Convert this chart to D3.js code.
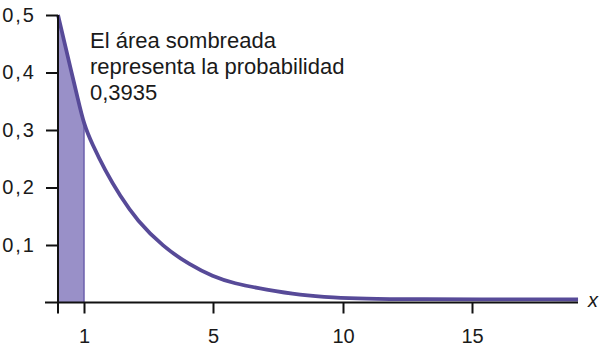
<!DOCTYPE html>
<html><head><meta charset="utf-8">
<script src="https://cdn.jsdelivr.net/npm/d3@7/dist/d3.min.js"></script>
<style>
html,body{margin:0;padding:0;background:#fff;}
svg{display:block;}
text{font-family:"Liberation Sans",Arial,sans-serif;fill:#1a1a1a;}
</style></head>
<body>
<svg id="chart" width="602" height="351"></svg>
<script>
// Curve points (x, density)
const curveX = [0, 0.25, 0.5, 0.75, 1.0, 1.25, 1.65, 2.12, 2.64, 3.45, 4.29, 5.0, 5.77, 7.07, 8.35, 9.62, 10.92, 12.21, 19.11];
const curveY = [0.5, 0.452, 0.404, 0.357, 0.309, 0.276, 0.230, 0.185, 0.143, 0.097, 0.065, 0.045, 0.0334, 0.022, 0.013, 0.0087, 0.0066, 0.0056, 0.0052];
const shadeFrom = 0, shadeTo = 1;
const xTicks = [1, 5, 10, 15];
const yTicks = [0.1, 0.2, 0.3, 0.4, 0.5];
const yTickLabels = ["0,1", "0,2", "0,3", "0,4", "0,5"];
const noteLines = ["El área sombreada", "representa la probabilidad", "0,3935"];
const xLabel = "x";

const svg = d3.select("#chart");
// axis placement on the original is not uniform: polylinear scale
const x = d3.scaleLinear().domain([0, 1, 5, 10, 15]).range([58, 84, 213, 343, 472]);
const y = d3.scaleLinear().domain([0, 0.5]).range([302.5, 15]);

const pts = curveX.map((d, i) => ({x: d, y: curveY[i]}));
const crv = d3.curveBasis;

svg.append("clipPath").attr("id", "shade").append("rect")
  .attr("x", x(shadeFrom)).attr("y", 0).attr("width", x(shadeTo) - x(shadeFrom)).attr("height", y(0));

const area = d3.area().x(d => x(d.x)).y0(y(0)).y1(d => y(d.y)).curve(crv);
svg.append("path").datum(pts).attr("d", area).attr("fill", "#9990c8").attr("clip-path", "url(#shade)");
const edgeY = curveY[curveX.indexOf(shadeTo)];
svg.append("line").attr("x1", x(shadeTo)).attr("x2", x(shadeTo)).attr("y1", y(0)).attr("y2", y(edgeY))
  .attr("stroke", "#6d61ad").attr("stroke-width", 1.5);

const line = d3.line().x(d => x(d.x)).y(d => y(d.y)).curve(crv);
svg.append("path").datum(pts).attr("d", line).attr("fill", "none")
  .attr("stroke", "#574a98").attr("stroke-width", 3.8);

// axes
const gx = svg.append("g").attr("transform", `translate(0,${y(0)})`)
  .call(d3.axisBottom(x).tickValues(xTicks).tickSize(11).tickPadding(15).tickFormat(d3.format("d")));
gx.select(".domain").remove();
gx.selectAll(".tick line").attr("stroke", "#111").attr("stroke-width", 2);
gx.selectAll(".tick text").attr("font-size", 20).attr("font-family", "Liberation Sans, Arial, sans-serif").attr("fill", "#1a1a1a");

const gy = svg.append("g").attr("transform", `translate(${x(0)},0)`)
  .call(d3.axisLeft(y).tickValues(yTicks).tickSize(12).tickPadding(10).tickFormat((d, i) => yTickLabels[i]));
gy.select(".domain").remove();
gy.selectAll(".tick line").attr("stroke", "#111").attr("stroke-width", 2);
gy.selectAll(".tick text").attr("font-size", 20).attr("font-family", "Liberation Sans, Arial, sans-serif")
  .attr("fill", "#1a1a1a").attr("letter-spacing", "2px").attr("x", -22);

svg.append("line").attr("x1", 45).attr("x2", 578).attr("y1", y(0)).attr("y2", y(0))
  .attr("stroke", "#111").attr("stroke-width", 2);
svg.append("line").attr("x1", x(0)).attr("x2", x(0)).attr("y1", y(0.5)).attr("y2", y(0) + 11)
  .attr("stroke", "#111").attr("stroke-width", 2);

svg.append("text").attr("x", 588).attr("y", 307).attr("font-size", 20).attr("font-style", "italic").text(xLabel);

svg.selectAll("text.note").data(noteLines).enter().append("text").attr("class", "note")
  .attr("x", 90).attr("y", (d, i) => 48 + i * 26).attr("font-size", 22).text(d => d);
</script>
</body></html>
